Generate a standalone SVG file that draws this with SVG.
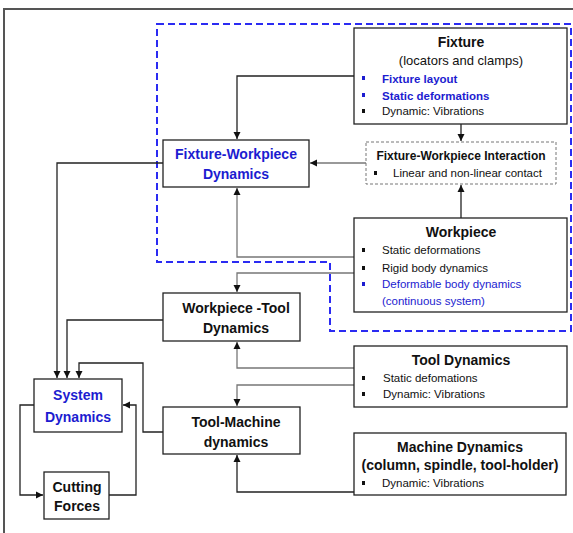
<svg xmlns="http://www.w3.org/2000/svg" width="573" height="533" viewBox="0 0 573 533">
<defs>
<marker id="ah" markerWidth="8" markerHeight="8" refX="7" refY="4" orient="auto" markerUnits="userSpaceOnUse">
<path d="M0,0.5 L7,4 L0,7.5 Z" fill="#111"/>
</marker>
<style>
.box{fill:#fff;stroke:#222;stroke-width:1.3}
.dbox{fill:#fff;stroke:#777;stroke-width:1;stroke-dasharray:3,2}
.t{font-family:"Liberation Sans",Arial,sans-serif;fill:#111}
.ti{font-size:14px;font-weight:bold;text-anchor:middle}
.sub{font-size:13px;text-anchor:middle}
.bl{font-size:11.5px}
.blue{fill:#1c1cd0}
.c{fill:none;stroke-width:1.3}
.k{stroke:#222}
.g{stroke:#777}
.bu{fill:#111}
</style>
</defs>
<rect x="0" y="0" width="573" height="533" fill="#fff"/>
<path d="M4,533 V9 H573" fill="none" stroke="#555" stroke-width="2"/>
<path d="M157,24 H571 V331 H330 V262 H157 Z" fill="none" stroke="#2b2bf2" stroke-width="2" stroke-dasharray="7,4"/>

<g id="connectors">
<path class="c k" d="M354,76 H237 V139" marker-end="url(#ah)"/>
<path class="c k" d="M461,124 V141" marker-end="url(#ah)"/>
<path class="c g" d="M366,163 H310" marker-end="url(#ah)"/>
<path class="c k" d="M461,218 V185" marker-end="url(#ah)"/>
<path class="c g" d="M354,257 H237 V188" marker-end="url(#ah)"/>
<path class="c g" d="M354,273 H237 V292" marker-end="url(#ah)"/>
<path class="c g" d="M354,368 H237 V342" marker-end="url(#ah)"/>
<path class="c g" d="M354,385 H237 V406" marker-end="url(#ah)"/>
<path class="c k" d="M354,492 H237 V455" marker-end="url(#ah)"/>
<path class="c k" d="M163,163 H57 V378" marker-end="url(#ah)"/>
<path class="c k" d="M163,320 H67 V378" marker-end="url(#ah)"/>
<path class="c k" d="M163,432 H143 V363 H79 V378" marker-end="url(#ah)"/>
<path class="c k" d="M34,405 H20 V495 H43" marker-end="url(#ah)"/>
<path class="c k" d="M109,495 H136 V405 H123" marker-end="url(#ah)"/>
</g>

<g id="fixture">
<rect class="box" x="354" y="28" width="213" height="96"/>
<text class="t ti" x="461" y="47">Fixture</text>
<text class="t sub" x="461" y="65">(locators and clamps)</text>
<rect class="bu" x="362" y="76" width="3" height="4" style="fill:#1c1cd0"/>
<text class="t bl blue" x="382" y="83" font-weight="bold" font-size="11">Fixture layout</text>
<rect class="bu" x="362" y="93" width="3" height="4" style="fill:#1c1cd0"/>
<text class="t bl blue" x="382" y="100" font-weight="bold" font-size="11">Static deformations</text>
<rect class="bu" x="362" y="109" width="3" height="4"/>
<text class="t bl" x="382" y="115">Dynamic: Vibrations</text>
</g>

<g id="fixture-workpiece-dynamics">
<rect class="box" x="163" y="140" width="146" height="47"/>
<text class="t ti blue" x="236" y="159" font-size="13.5">Fixture-Workpiece</text>
<text class="t ti blue" x="236" y="179" font-size="13.5">Dynamics</text>
</g>

<g id="fixture-workpiece-interaction">
<rect class="dbox" x="366" y="142" width="190" height="42"/>
<text class="t" x="461" y="160" font-size="12" font-weight="bold" text-anchor="middle">Fixture-Workpiece Interaction</text>
<rect class="bu" x="374" y="171" width="3" height="4"/>
<text class="t bl" x="393" y="177">Linear and non-linear contact</text>
</g>

<g id="workpiece">
<rect class="box" x="354" y="218" width="213" height="94"/>
<text class="t ti" x="461" y="237">Workpiece</text>
<rect class="bu" x="362" y="248" width="3" height="4"/>
<text class="t bl" x="382" y="254">Static deformations</text>
<rect class="bu" x="362" y="266" width="3" height="4"/>
<text class="t bl" x="382" y="272">Rigid body dynamics</text>
<rect class="bu" x="362" y="282" width="3" height="4" style="fill:#1c1cd0"/>
<text class="t bl blue" x="382" y="288" font-size="12">Deformable body dynamics</text>
<text class="t bl blue" x="382" y="305" font-size="12">(continuous system)</text>
</g>

<g id="workpiece-tool-dynamics">
<rect class="box" x="163" y="293" width="137" height="48"/>
<text class="t ti" x="236" y="313" font-size="13.5">Workpiece -Tool</text>
<text class="t ti" x="236" y="333" font-size="13.5">Dynamics</text>
</g>

<g id="tool-dynamics">
<rect class="box" x="354" y="346" width="213" height="61"/>
<text class="t ti" x="461" y="365">Tool Dynamics</text>
<rect class="bu" x="362" y="376" width="3" height="4"/>
<text class="t bl" x="383" y="382">Static defomations</text>
<rect class="bu" x="362" y="392" width="3" height="4"/>
<text class="t bl" x="383" y="398">Dynamic: Vibrations</text>
</g>

<g id="tool-machine-dynamics">
<rect class="box" x="163" y="407" width="137" height="47"/>
<text class="t ti" x="236" y="427" font-size="13.5">Tool-Machine</text>
<text class="t ti" x="236" y="447" font-size="13.5">dynamics</text>
</g>

<g id="machine-dynamics">
<rect class="box" x="354" y="433" width="212" height="62"/>
<text class="t ti" x="460" y="452">Machine Dynamics</text>
<text class="t ti" x="460" y="470">(column, spindle, tool-holder)</text>
<rect class="bu" x="362" y="481" width="3" height="4"/>
<text class="t bl" x="382" y="487">Dynamic: Vibrations</text>
</g>

<g id="system-dynamics">
<rect class="box" x="34" y="379" width="88" height="53"/>
<text class="t ti blue" x="78" y="400" font-size="15.5">System</text>
<text class="t ti blue" x="78" y="422" font-size="15.5">Dynamics</text>
</g>

<g id="cutting-forces">
<rect class="box" x="44" y="472" width="65" height="47"/>
<text class="t ti" x="77" y="492" font-size="13.5">Cutting</text>
<text class="t ti" x="77" y="511" font-size="13.5">Forces</text>
</g>
</svg>
